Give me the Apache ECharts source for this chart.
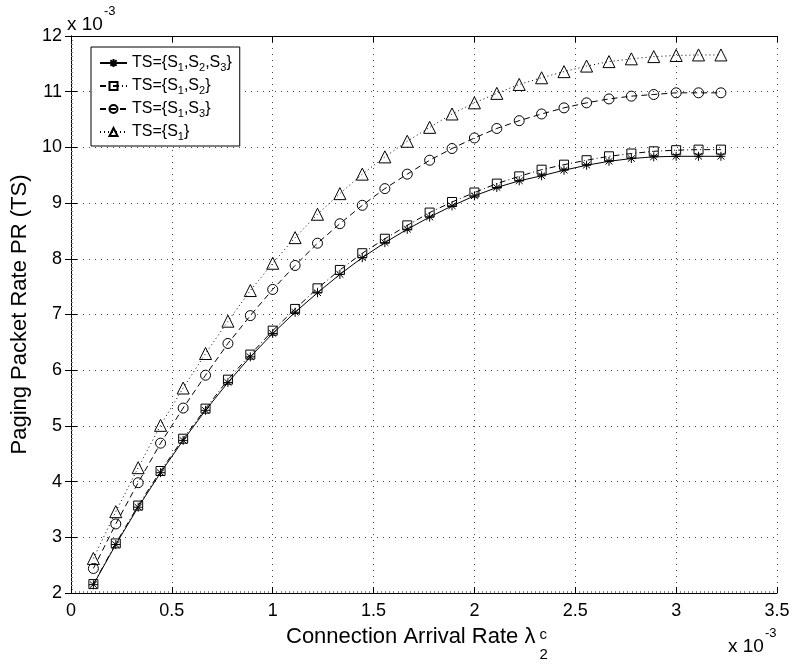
<!DOCTYPE html>
<html><head><meta charset="utf-8">
<script src="https://cdn.jsdelivr.net/npm/echarts@6/dist/echarts.min.js"></script>
<style>html,body{margin:0;padding:0;background:#fff}#c{width:796px;height:665px}</style>
</head><body><div id="c"></div>
<script>
// x values (units of 1e-3)
const xValues = [0.111,0.222,0.333,0.444,0.556,0.667,0.778,0.889,1.000,1.111,1.222,1.333,1.444,1.556,1.667,1.778,1.889,2.000,2.111,2.222,2.333,2.444,2.556,2.667,2.778,2.889,3.000,3.111,3.222];
// series values (units of 1e-3)
const tsS1S2S3 = [2.15,2.87,3.54,4.16,4.74,5.28,5.78,6.24,6.66,7.04,7.39,7.72,8.02,8.29,8.53,8.75,8.95,9.13,9.28,9.40,9.49,9.59,9.68,9.75,9.80,9.83,9.84,9.84,9.84];
const tsS1S2   = [2.16,2.89,3.57,4.19,4.77,5.31,5.83,6.28,6.71,7.10,7.47,7.80,8.10,8.36,8.60,8.83,9.02,9.19,9.35,9.48,9.60,9.69,9.77,9.84,9.89,9.93,9.95,9.96,9.96];
const tsS1S3   = [2.44,3.24,3.98,4.69,5.32,5.91,6.48,6.98,7.45,7.88,8.28,8.63,8.96,9.26,9.52,9.77,9.98,10.17,10.34,10.48,10.60,10.71,10.80,10.87,10.92,10.95,10.98,10.98,10.98];
const tsS1     = [2.62,3.46,4.25,5.01,5.68,6.30,6.88,7.43,7.92,8.38,8.80,9.17,9.52,9.83,10.11,10.36,10.60,10.80,10.97,11.13,11.25,11.36,11.46,11.54,11.59,11.63,11.65,11.66,11.66];
const seriesNames = ['S123','S12','S13','S1'];
const legendLabels = {
  S123: 'TS={S{sub|1},S{sub|2},S{sub|3}}',
  S12:  'TS={S{sub|1},S{sub|2}}',
  S13:  'TS={S{sub|1},S{sub|3}}',
  S1:   'TS={S{sub|1}}'
};
const xTitle = 'Connection Arrival Rate λ';
const yTitle = 'Paging Packet Rate PR (TS)';
const scaleText = 'x 10';
const scaleExp = '-3';

const FONT = 'Liberation Sans, Arial, Helvetica, sans-serif';
const chart = echarts.init(document.getElementById('c'));

function pairs(ys){ return xValues.map((x,i)=>[x, ys[i]]); }
function measure(t, size){
  const c = document.createElement('canvas').getContext('2d');
  c.font = size + 'px ' + FONT; return c.measureText(t).width;
}
const asterisk = 'path://M10,0L10,20M1,10L19,10M3,3L17,17M3,17L17,3';
const hollow = 'rgba(0,0,0,0)';

function mkSeries(name, data, symbol, size, dash){
  return {
    name, type:'line', data: pairs(data), symbol, symbolSize:size, showAllSymbol:true,
    lineStyle:{color:'#000', width:1, type:dash},
    itemStyle:{color:hollow, borderColor:'#000', borderWidth:1},
    emphasis:{disabled:true}, animation:false, z:3
  };
}

const titleX = 286, titleTop = 626, titleSize = 22;
const wTitle = measure(xTitle, titleSize);

const option = {
  animation:false,
  backgroundColor:'#fff',
  textStyle:{fontFamily:FONT},
  grid:{left:71, right:19, top:36, bottom:72, show:false},
  legend:{
    show:true, left:91, top:47, orient:'vertical',
    backgroundColor:'#fff', borderColor:'#000', borderWidth:1,
    padding:[6,8,4,8], itemGap:3, itemWidth:27, itemHeight:10,
    data:seriesNames,
    formatter: n => legendLabels[n],
    textStyle:{fontSize:16, color:'#000', fontFamily:FONT, lineHeight:20,
      rich:{sub:{fontSize:11, color:'#000', fontFamily:FONT, verticalAlign:'bottom', padding:[9,0,0,0], lineHeight:11}}}
  },
  xAxis:[{
    type:'value', min:0, max:3.5, interval:0.5,
    axisLine:{show:true, lineStyle:{color:'#000', width:1}},
    axisTick:{show:true, inside:true, length:6, lineStyle:{color:'#000'}},
    minorTick:{show:true, splitNumber:25, length:2, lineStyle:{color:'#888'}},
    axisLabel:{fontSize:18, color:'#000', margin:9, fontFamily:FONT},
    splitLine:{show:true, lineStyle:{color:'#444', type:[1,5], width:1}}
  },{
    type:'value', min:0, max:3.5, interval:0.5, position:'top',
    axisLine:{show:true, lineStyle:{color:'#000', width:1}},
    axisTick:{show:true, inside:true, length:6, lineStyle:{color:'#000'}},
    axisLabel:{show:false}, splitLine:{show:false}
  }],
  yAxis:[{
    type:'value', min:2, max:12, interval:1,
    name:yTitle, nameLocation:'middle', nameRotate:90, nameGap:39,
    nameTextStyle:{fontSize:22, color:'#000', fontFamily:FONT},
    axisLine:{show:true, lineStyle:{color:'#000', width:1}},
    axisTick:{show:true, inside:true, length:6, lineStyle:{color:'#000'}},
    minorTick:{show:true, splitNumber:14, length:2, lineStyle:{color:'#888'}},
    axisLabel:{fontSize:18, color:'#000', margin:9, fontFamily:FONT},
    splitLine:{show:true, lineStyle:{color:'#444', type:[1,5], width:1}}
  },{
    type:'value', min:2, max:12, interval:1, position:'right',
    axisLine:{show:true, lineStyle:{color:'#000', width:1}},
    axisTick:{show:true, inside:true, length:6, lineStyle:{color:'#000'}},
    axisLabel:{show:false}, splitLine:{show:false}
  }],
  series:[
    mkSeries('S123', tsS1S2S3, asterisk, 9, 'solid'),
    mkSeries('S12', tsS1S2, 'rect', 9, [6,3,1,3]),
    mkSeries('S13', tsS1S3, 'circle', 10, [6,4]),
    mkSeries('S1', tsS1, 'triangle', 12, [1,3])
  ],
  graphic:[
    {type:'text', left:titleX, top:titleTop, style:{text:xTitle, fontSize:titleSize, fontFamily:FONT, fill:'#000'}},
    {type:'text', left:titleX+wTitle+4, top:647, style:{text:'2', fontSize:15, fontFamily:FONT, fill:'#000'}},
    {type:'text', left:titleX+wTitle+4, top:627, style:{text:'c', fontSize:15, fontFamily:FONT, fill:'#000'}},
    {type:'text', left:67, top:15, style:{text:scaleText, fontSize:19, fontFamily:FONT, fill:'#000'}},
    {type:'text', left:67+measure(scaleText,19)+1, top:5, style:{text:scaleExp, fontSize:13, fontFamily:FONT, fill:'#000'}},
    {type:'text', left:728, top:637, style:{text:scaleText, fontSize:19, fontFamily:FONT, fill:'#000'}},
    {type:'text', left:728+measure(scaleText,19)+1, top:627, style:{text:scaleExp, fontSize:13, fontFamily:FONT, fill:'#000'}}
  ]
};
chart.setOption(option);
</script></body></html>
